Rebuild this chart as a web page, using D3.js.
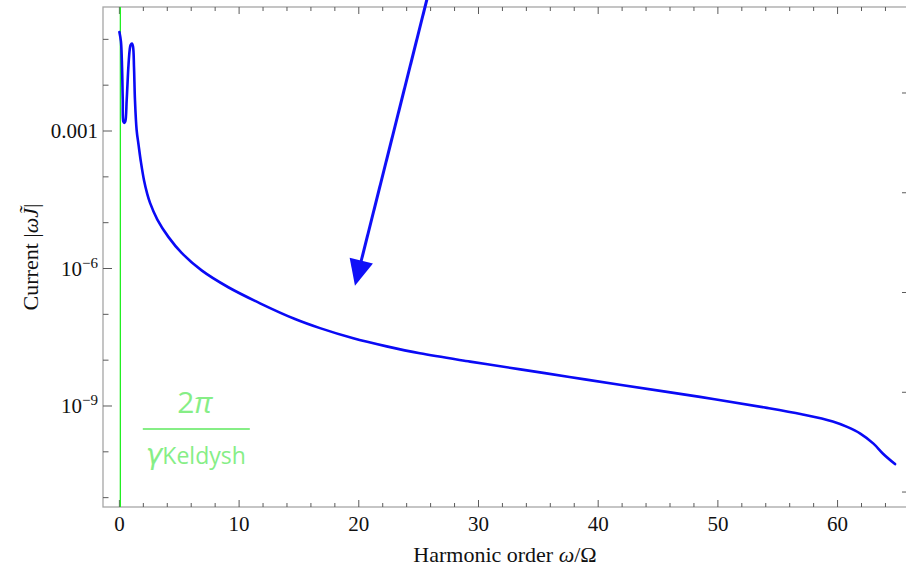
<!DOCTYPE html>
<html>
<head>
<meta charset="utf-8">
<script src="https://cdn.jsdelivr.net/npm/d3@7"></script>
<style>
  html, body { margin: 0; padding: 0; background: #fff; }
  svg { display: block; }
</style>
</head>
<body>
<svg id="chart" width="906" height="567"></svg>
<script>
// ---------------- data ----------------
const harmonicOrder = [0.0, 0.13, 0.22, 0.28, 0.33, 0.41, 0.49, 0.61, 0.75, 0.86, 0.94, 1.05, 1.14, 1.22, 1.30, 1.44, 1.60, 1.80,
  2.06, 2.31, 2.56, 3.17, 4.09, 5.2, 6.87, 9.1, 11.75, 14.67, 16.76, 19.54, 22.33, 25.1, 29.3, 33.5, 37.6, 41.8, 48.5, 54.1,
  57.0, 59.6, 60.8, 61.9, 63.0, 63.8, 64.8];
const currentValues = [1.45e-1, 8.9e-2, 2.5e-2, 4.8e-3, 1.6e-3, 1.5e-3, 1.6e-3, 4.8e-3, 2.5e-2, 5.9e-2, 7.6e-2, 8.1e-2, 6.9e-2, 2.5e-2, 4.8e-3, 1.05e-3, 5.0e-4, 2.09e-4,
  8.3e-5, 4.4e-5, 2.7e-5, 1.17e-5, 4.9e-6, 2.19e-6, 9.1e-7, 3.9e-7, 1.74e-7, 7.9e-8, 5.0e-8, 3.0e-8, 2.0e-8, 1.41e-8, 9.3e-9, 6.3e-9, 4.3e-9, 2.9e-9, 1.58e-9, 9.1e-10,
  6.6e-10, 4.6e-10, 3.5e-10, 2.5e-10, 1.51e-10, 9.1e-11, 5.4e-11];

const xMajorTicks = [0, 10, 20, 30, 40, 50, 60];
const xMinorTicks = [2, 4, 6, 8, 12, 14, 16, 18, 22, 24, 26, 28, 32, 34, 36, 38, 42, 44, 46, 48, 52, 54, 56, 58, 62, 64];
const yMajorTicks = [1e-3, 1e-6, 1e-9];
const yMajorLabels = [["0.001", ""], ["10", "\u22126"], ["10", "\u22129"]];
const yMinorTicks = [1e-1, 1e-2, 1e-4, 1e-5, 1e-7, 1e-8, 1e-10, 1e-11];
const rightTicks = [0, 1, 2, 3, 4];

const keldyshLine = 0.08;           // 2π / γ_Keldysh marker position
const keldyshLabelAnchor = [6.3, 3.15e-10];
const arrowStart = [26.3, 3.2];
const arrowTip = [19.68, 4.2e-7];

(function () {
// ---------------- layout ----------------
const svg = d3.select("#chart");
const pL = 103, pR = 907, pT = 7, pB = 507;

const x = d3.scaleLinear().domain([-1.37, 65.80]).range([pL, pR]);
const y = d3.scaleLog().domain([Math.pow(10, -11.204), Math.pow(10, -0.294)]).range([pB, pT]);
const yRight = d3.scaleLinear().domain([-0.150, 4.862]).range([pB, pT]);

const frameColor = "#a6a6a6";
const tickColor = "#5a5a5a";
const serif = "'Liberation Serif', 'Times New Roman', serif";

// frame
svg.append("rect")
  .attr("x", pL).attr("y", pT)
  .attr("width", pR - pL).attr("height", pB - pT)
  .attr("fill", "none").attr("stroke", frameColor).attr("stroke-width", 1.3);

const ticks = svg.append("g").attr("stroke", tickColor).attr("stroke-width", 1);

xMajorTicks.forEach(v => {
  ticks.append("line").attr("x1", x(v)).attr("x2", x(v)).attr("y1", pB).attr("y2", pB - 7);
  ticks.append("line").attr("x1", x(v)).attr("x2", x(v)).attr("y1", pT).attr("y2", pT + 7);
});
xMinorTicks.forEach(v => {
  ticks.append("line").attr("x1", x(v)).attr("x2", x(v)).attr("y1", pB).attr("y2", pB - 4);
  ticks.append("line").attr("x1", x(v)).attr("x2", x(v)).attr("y1", pT).attr("y2", pT + 4);
});
yMajorTicks.forEach(v => {
  ticks.append("line").attr("x1", pL).attr("x2", pL + 9).attr("y1", y(v)).attr("y2", y(v));
});
yMinorTicks.forEach(v => {
  ticks.append("line").attr("x1", pL).attr("x2", pL + 5.5).attr("y1", y(v)).attr("y2", y(v));
});
rightTicks.forEach(v => {
  ticks.append("line").attr("x1", pR).attr("x2", pR - 5).attr("y1", yRight(v)).attr("y2", yRight(v));
});

// x tick labels
svg.append("g").selectAll("text").data(xMajorTicks).join("text")
  .attr("x", d => x(d)).attr("y", 531)
  .attr("text-anchor", "middle")
  .attr("font-family", serif).attr("font-size", 21).attr("fill", "#111")
  .text(d => d);

// y tick labels
yMajorTicks.forEach((v, i) => {
  const [base, exp] = yMajorLabels[i];
  const t = svg.append("text")
    .attr("x", 98).attr("y", y(v) + 7)
    .attr("text-anchor", "end")
    .attr("font-family", serif).attr("font-size", 21).attr("fill", "#111");
  t.append("tspan").text(base);
  if (exp) {
    t.append("tspan").attr("font-size", 15).attr("dy", -8).text(exp);
  }
});

// axis labels
const xl = svg.append("text")
  .attr("x", (pL + pR) / 2).attr("y", 562)
  .attr("text-anchor", "middle")
  .attr("font-family", serif).attr("font-size", 22).attr("fill", "#111");
xl.append("tspan").text("Harmonic order ");
xl.append("tspan").attr("font-style", "italic").text("\u03C9");
xl.append("tspan").text("/\u03A9");

const yl = svg.append("text")
  .attr("transform", `translate(38,${(pT + pB) / 2}) rotate(-90)`)
  .attr("text-anchor", "middle")
  .attr("font-family", serif).attr("font-size", 22).attr("fill", "#111");
yl.append("tspan").text("Current |");
yl.append("tspan").attr("font-style", "italic").text("\u03C9J\u0303");
yl.append("tspan").text("|");

// Keldysh vertical line
svg.append("line")
  .attr("x1", x(keldyshLine)).attr("x2", x(keldyshLine))
  .attr("y1", pT).attr("y2", pB)
  .attr("stroke", "#22ee22").attr("stroke-width", 1.3);

// Keldysh label (fraction)
const lx = x(keldyshLabelAnchor[0]), ly = y(keldyshLabelAnchor[1]);
const labelColor = "#86ee86";
const sans = "'Open Sans', 'Noto Sans', 'DejaVu Sans', sans-serif";
const num = svg.append("text")
  .attr("x", lx).attr("y", ly - 16)
  .attr("text-anchor", "middle")
  .attr("font-family", sans)
  .attr("font-size", 30).attr("fill", labelColor);
num.append("tspan").text("2");
num.append("tspan").attr("font-style", "italic").text("\u03C0");
svg.append("line")
  .attr("x1", lx - 52).attr("x2", lx + 55)
  .attr("y1", ly).attr("y2", ly)
  .attr("stroke", labelColor).attr("stroke-width", 2.2);
const den = svg.append("text")
  .attr("x", lx + 1).attr("y", ly + 35)
  .attr("text-anchor", "middle")
  .attr("fill", labelColor);
den.append("tspan").attr("font-family", "'DejaVu Sans', sans-serif")
  .attr("font-style", "italic").attr("font-size", 28).text("\u03B3");
den.append("tspan").attr("font-family", sans).attr("font-size", 23).text("Keldysh");

// curve
const data = harmonicOrder.map((h, i) => [h, currentValues[i]]);
svg.append("defs").append("clipPath").attr("id", "plotclip")
  .append("rect").attr("x", pL).attr("y", pT).attr("width", pR - pL).attr("height", pB - pT);

svg.append("path")
  .datum(data)
  .attr("clip-path", "url(#plotclip)")
  .attr("fill", "none")
  .attr("stroke", "#0a0af5")
  .attr("stroke-width", 2.6)
  .attr("stroke-linejoin", "round")
  .attr("stroke-linecap", "round")
  .attr("d", d3.line().x(d => x(d[0])).y(d => y(d[1])).curve(d3.curveCatmullRom.alpha(0.5)));

// arrow
const sx = x(arrowStart[0]), sy = y(arrowStart[1]);
const tx = x(arrowTip[0]), ty = y(arrowTip[1]);
const len = Math.hypot(tx - sx, ty - sy);
const ux = (tx - sx) / len, uy = (ty - sy) / len;
const headLen = 26, headHalf = 12;
const bx = tx - ux * headLen, by = ty - uy * headLen;
svg.append("line")
  .attr("x1", sx).attr("y1", sy).attr("x2", bx + ux * 2).attr("y2", by + uy * 2)
  .attr("stroke", "#1010f8").attr("stroke-width", 3);
svg.append("path")
  .attr("d", `M${tx},${ty} L${bx - uy * headHalf},${by + ux * headHalf} L${bx + uy * headHalf},${by - ux * headHalf} Z`)
  .attr("fill", "#1010f8");
})();
</script>
</body>
</html>
